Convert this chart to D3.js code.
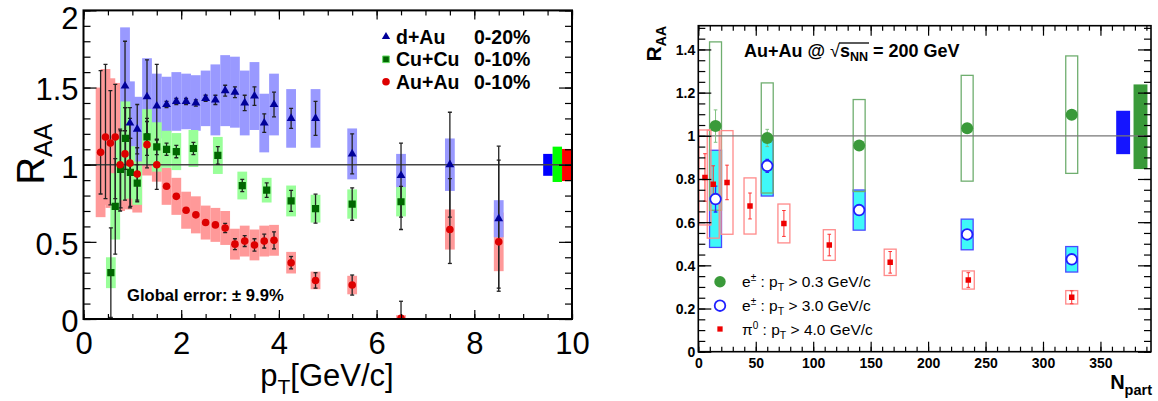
<!DOCTYPE html>
<html>
<head>
<meta charset="utf-8">
<script src="https://cdn.jsdelivr.net/npm/d3@7/dist/d3.min.js"></script>
<style>
html,body{margin:0;padding:0;background:#fff;}
svg{display:block;}
</style>
</head>
<body>
<svg id="chart" width="1158" height="401"></svg>
<script>
// ================= LEFT PANEL DATA: R_AA vs pT =================
// d+Au 0-20%
const dAuPt     = [0.85,0.95,1.1,1.3,1.5,1.7,1.9,2.1,2.3,2.5,2.7,2.9,3.1,3.3,3.5,3.7,3.9,4.25,4.75,5.5,6.5,7.5,8.5];
const dAuR      = [1.51,1.27,1.23,1.44,1.38,1.39,1.41,1.41,1.40,1.43,1.42,1.48,1.47,1.40,1.445,1.27,1.39,1.30,1.30,1.07,0.93,1.00,0.65];
const dAuStatHi = [0.29,0.10,0.16,0.24,0.27,0.02,0.02,0.02,0.02,0.02,0.03,0.035,0.035,0.05,0.06,0.06,0.08,0.065,0.11,0.13,0.21,0.34,0.47];
const dAuStatLo = [0.29,0.10,0.16,0.24,0.27,0.02,0.02,0.02,0.02,0.02,0.03,0.035,0.035,0.05,0.06,0.06,0.08,0.065,0.11,0.13,0.35,0.34,0.47];
const dAuSys    = [0.38,0.27,0.21,0.25,0.21,0.18,0.19,0.18,0.18,0.18,0.23,0.23,0.23,0.21,0.22,0.19,0.20,0.19,0.19,0.165,0.14,0.17,0.12];
// Cu+Cu 0-10%
const cuPt   = [0.56,0.65,0.76,0.86,0.96,1.1,1.3,1.5,1.7,1.9,2.25,2.75,3.25,3.75,4.25,4.75,5.5,6.5];
const cuR    = [0.30,0.73,0.97,1.17,0.95,0.88,1.18,1.115,1.10,1.085,1.105,1.06,0.865,0.835,0.765,0.715,0.745,0.76];
const cuStat = [0.29,0.31,0.25,0.20,0.22,0.12,0.12,0.05,0.04,0.04,0.04,0.057,0.04,0.047,0.068,0.094,0.105,0.10];
const cuSys  = [0.10,0.215,0.20,0.24,0.17,0.14,0.18,0.16,0.12,0.12,0.12,0.12,0.09,0.08,0.10,0.09,0.095,0.095];
// Au+Au 0-10%
const auPt     = [0.35,0.45,0.55,0.65,0.75,0.85,0.95,1.1,1.3,1.5,1.7,1.9,2.1,2.3,2.5,2.7,2.9,3.1,3.3,3.5,3.7,3.9,4.25,4.75,5.5,6.5,7.5,8.5];
const auR      = [1.08,1.18,1.14,1.18,1.00,1.07,1.01,0.94,1.13,1.00,0.86,0.795,0.705,0.675,0.625,0.61,0.59,0.485,0.505,0.48,0.505,0.51,0.365,0.25,0.22,0.005,0.58,0.50];
const auStatHi = [0.53,0.47,0.34,0.34,0.23,0.30,0.29,0.17,0.15,0.16,0.01,0.01,0.01,0.01,0.01,0.015,0.03,0.035,0.035,0.04,0.045,0.055,0.04,0.05,0.065,0.11,0.33,0.53];
const auStatLo = [0.27,0.40,0.40,0.40,0.30,0.30,0.29,0.17,0.15,0.16,0.01,0.01,0.01,0.01,0.01,0.015,0.03,0.035,0.035,0.04,0.045,0.055,0.04,0.05,0.065,0.005,0.22,0.30];
const auSys    = [0.42,0.44,0.42,0.35,0.30,0.30,0.30,0.25,0.20,0.11,0.12,0.12,0.12,0.12,0.11,0.11,0.11,0.10,0.10,0.10,0.10,0.10,0.07,0.057,0.06,0.02,0.13,0.19];
// global normalisation boxes (d+Au, Cu+Cu, Au+Au)
const leftGlobalLo = [0.928,0.888,0.894];
const leftGlobalHi = [1.070,1.117,1.102];
const leftNames = ["d+Au","Cu+Cu","Au+Au"];
const leftCents = ["0-20%","0-10%","0-10%"];
const leftXTicks = [0,2,4,6,8,10];
const leftYTicks = [0,0.5,1,1.5,2];

// ================= RIGHT PANEL DATA: R_AA vs Npart =================
const eNpart    = [15,60,140,234,325];
const eLowR     = [1.045,0.99,0.955,1.035,1.098];   // e± pT>0.3
const eLowStat  = [0.075,0.04,0.02,0.02,0.02];
const eLowSys   = [0.39,0.255,0.213,0.245,0.272];
const eHighR    = [0.707,0.861,0.656,0.543,0.428];  // e± pT>3.0
const eHighStat = [0.06,0.03,0.012,0.012,0.012];
const eHighSysHi= [0.226,0.12,0.093,0.071,0.059];
const eHighSysLo= [0.224,0.14,0.093,0.071,0.059];
const piNpart   = [5.8,13,25,45,74.5,114,167,235,325];
const piR       = [0.807,0.776,0.784,0.675,0.594,0.494,0.414,0.332,0.252]; // pi0 pT>4
const piStat    = [0.11,0.085,0.08,0.06,0.06,0.05,0.05,0.034,0.03];
const piSys     = [0.22,0.25,0.24,0.13,0.09,0.071,0.061,0.042,0.031];
const rightGlobalLo = [0.915,0.846];
const rightGlobalHi = [1.116,1.238];
const rightXTicks = [0,50,100,150,200,250,300,350];
const rightYTicks = [0,0.2,0.4,0.6,0.8,1,1.2,1.4];

// ================= DRAWING =================
const svg = d3.select("#chart");
const FONT = "'Liberation Sans', Arial, Helvetica, sans-serif";

const xL = d3.scaleLinear().domain([0,10]).range([83.5,572]);
const yL = d3.scaleLinear().domain([0,2]).range([319,10.4]);
const xR = d3.scaleLinear().domain([0,394]).range([698.3,1151]);
const yR = d3.scaleLinear().domain([0,1.51]).range([351.7,25.7]);

const defs = svg.append("defs");
function clip(id, x, y){
  const [xa,xb]=x.range(), [ya,yb]=y.range();
  defs.append("clipPath").attr("id",id).append("rect")
    .attr("x",xa).attr("y",yb).attr("width",xb-xa).attr("height",ya-yb);
}
clip("clipL", xL, yL); clip("clipR", xR, yR);

function frameAxes(x, y, o){
  const g = svg.append("g");
  const [xa,xb]=x.range(), [ya,yb]=y.range();
  const mk = (axisFn, scale, vals, len, tr, fmt, pad) => {
    const a = axisFn(scale).tickValues(vals).tickSizeInner(-len).tickSizeOuter(0)
      .tickPadding(pad||3).tickFormat(fmt || (()=>""));
    const gg = g.append("g").attr("transform", tr).call(a);
    gg.select(".domain").remove();
    gg.selectAll(".tick line").attr("stroke","#000").attr("stroke-width",o.tickW);
    return gg;
  };
  const bx = mk(d3.axisBottom, x, o.xMajor, o.xMajLen, `translate(0,${ya})`, o.xFmt, o.xPad);
  mk(d3.axisBottom, x, o.xMinor, o.xMinLen, `translate(0,${ya})`);
  mk(d3.axisTop, x, o.xMajor, o.xMajLen, `translate(0,${yb})`);
  mk(d3.axisTop, x, o.xMinor, o.xMinLen, `translate(0,${yb})`);
  const ly = mk(d3.axisLeft, y, o.yMajor, o.yMajLen, `translate(${xa},0)`, o.yFmt, o.yPad);
  mk(d3.axisLeft, y, o.yMinor, o.yMinLen, `translate(${xa},0)`);
  mk(d3.axisRight, y, o.yMajor, o.yMajLen, `translate(${xb},0)`);
  mk(d3.axisRight, y, o.yMinor, o.yMinLen, `translate(${xb},0)`);
  g.append("rect").attr("x",xa).attr("y",yb).attr("width",xb-xa).attr("height",ya-yb)
    .attr("fill","none").attr("stroke","#000").attr("stroke-width",o.frameW);
  [bx,ly].forEach(s => s.selectAll("text").attr("font-family",FONT).attr("font-size",o.fs)
    .attr("font-weight",o.fw).attr("fill","#000"));
  ly.selectAll("text").attr("dy",o.yDy);
  return ly;
}

function boxes(g, x, y, xs, ys, hi, lo, halfW, fill, stroke, sw){
  g.append("g").selectAll("rect").data(xs).join("rect")
    .attr("x", (d)=>x(d-halfW))
    .attr("width", (d)=>x(d+halfW)-x(d-halfW))
    .attr("y", (d,i)=>y(ys[i]+hi[i]))
    .attr("height", (d,i)=>y(ys[i]-lo[i])-y(ys[i]+hi[i]))
    .attr("fill", fill).attr("stroke", stroke).attr("stroke-width", sw||0);
}
function errBars(g, x, y, xs, ys, hi, lo, color, capW, sw){
  const gg = g.append("g").attr("stroke",color).attr("stroke-width",sw);
  xs.forEach((d,i)=>{
    const cx = x(d), t = y(ys[i]+hi[i]), b = y(Math.max(0,ys[i]-lo[i]));
    gg.append("line").attr("x1",cx).attr("x2",cx).attr("y1",t).attr("y2",b);
    gg.append("line").attr("x1",cx-capW).attr("x2",cx+capW).attr("y1",t).attr("y2",t);
    gg.append("line").attr("x1",cx-capW).attr("x2",cx+capW).attr("y1",b).attr("y2",b);
  });
}
const sq = a => d3.symbol(d3.symbolSquare, a)();
const tri = a => d3.symbol(d3.symbolTriangle, a)();

// ---------------- LEFT PANEL ----------------
const gL = svg.append("g").attr("clip-path","url(#clipL)");
const BW = 0.1; // half-width of systematic boxes in GeV/c
boxes(gL, xL, yL, auPt, auR, auSys, auSys, BW, "#ff9999");
boxes(gL, xL, yL, dAuPt, dAuR, dAuSys, dAuSys, BW, "#9999ff");
boxes(gL, xL, yL, cuPt, cuR, cuSys, cuSys, BW, "#99ff99");
// global boxes at right edge
const gColsL = ["#0000ff","#00ff00","#ff0000"];
leftGlobalLo.forEach((lo,i)=>{
  const x0 = 9.41 + i*0.193, x1 = x0 + 0.193;
  gL.append("rect").attr("x",xL(x0)).attr("width",xL(x1)-xL(x0))
    .attr("y",yL(leftGlobalHi[i])).attr("height",yL(lo)-yL(leftGlobalHi[i])).attr("fill",gColsL[i]);
});
gL.append("line").attr("x1",xL(0)).attr("x2",xL(10)).attr("y1",yL(1)).attr("y2",yL(1))
  .attr("stroke","#444").attr("stroke-width",1.4);
errBars(gL, xL, yL, auPt, auR, auStatHi, auStatLo, "#222", 2, 1.3);
errBars(gL, xL, yL, cuPt, cuR, cuStat, cuStat, "#222", 2, 1.3);
errBars(gL, xL, yL, dAuPt, dAuR, dAuStatHi, dAuStatLo, "#222", 2, 1.3);
gL.append("g").selectAll("path").data(cuPt).join("path")
  .attr("d", sq(52)).attr("fill","#006600")
  .attr("transform",(d,i)=>`translate(${xL(d)},${yL(cuR[i])})`);
gL.append("g").selectAll("circle").data(auPt).join("circle")
  .attr("cx",d=>xL(d)).attr("cy",(d,i)=>yL(auR[i])).attr("r",3.8).attr("fill","#dd0000");
gL.append("g").selectAll("path").data(dAuPt).join("path")
  .attr("d", tri(34)).attr("fill","#000099")
  .attr("transform",(d,i)=>`translate(${xL(d)},${yL(dAuR[i])})`);

const lyL = frameAxes(xL, yL, {
  xMajor:leftXTicks, xMinor:d3.range(0,10.001,0.5), yMajor:leftYTicks, yMinor:d3.range(0,2.001,0.1),
  xMajLen:9, xMinLen:5, yMajLen:13, yMinLen:7, tickW:1.2, frameW:2,
  xFmt:d3.format(""), yFmt:d3.format(""), xPad:13, yPad:5, fs:31, fw:"normal", yDy:"0.4em"
});
// keep the topmost label inside the picture
lyL.selectAll(".tick").filter(d=>d===2).select("text").attr("dy","0.58em");

// left legend
const legL = svg.append("g").attr("font-family",FONT).attr("font-weight","bold").attr("font-size",19.5);
const legRowsY = [36.7,59.3,81.7];
legL.append("path").attr("d",tri(30)).attr("fill","#000099").attr("transform",`translate(386,${legRowsY[0]})`);
legL.append("path").attr("d",sq(44)).attr("fill","#006600").attr("stroke","#66dd66").attr("stroke-width",1).attr("transform",`translate(386,${legRowsY[1]})`);
legL.append("circle").attr("cx",386).attr("cy",legRowsY[2]).attr("r",3.8).attr("fill","#dd0000");
leftNames.forEach((n,i)=>{
  legL.append("text").attr("x",396).attr("y",legRowsY[i]+7).text(n);
  legL.append("text").attr("x",474).attr("y",legRowsY[i]+7).text(leftCents[i]);
});
svg.append("text").attr("x",127).attr("y",301).attr("font-family",FONT).attr("font-size",16.6)
  .attr("font-weight","bold").text("Global error: ± 9.9%");

// left axis titles
const xt = svg.append("text").attr("x",327).attr("y",386).attr("text-anchor","middle")
  .attr("font-family",FONT).attr("font-size",31);
xt.append("tspan").text("p");
xt.append("tspan").attr("font-size",21).attr("dy",8).text("T");
xt.append("tspan").attr("dy",-8).text("[GeV/c]");
const yt = svg.append("text").attr("transform","translate(44,154) rotate(-90)").attr("text-anchor","middle")
  .attr("font-family",FONT).attr("font-size",38);
yt.append("tspan").text("R");
yt.append("tspan").attr("font-size",25).attr("dy",8).text("AA");

// ---------------- RIGHT PANEL ----------------
const gR = svg.append("g").attr("clip-path","url(#clipR)");
const NW = 5.2; // half-width of boxes in Npart units
boxes(gR, xR, yR, eNpart, eHighR, eHighSysHi, eHighSysLo, NW, "#3ff8f8", "#4a4aff", 1.3);
boxes(gR, xR, yR, eNpart, eLowR, eLowSys, eLowSys, NW, "none", "#6fae6f", 1.3);
boxes(gR, xR, yR, piNpart, piR, piSys, piSys, NW, "none", "#ff8a8a", 1.3);
const gColsR = ["#1515ff","#3a9a3a"];
rightGlobalLo.forEach((lo,i)=>{
  const x0 = 363.7 + i*15.1, x1 = x0 + 12.1;
  gR.append("rect").attr("x",xR(x0)).attr("width",xR(x1)-xR(x0))
    .attr("y",yR(rightGlobalHi[i])).attr("height",yR(lo)-yR(rightGlobalHi[i])).attr("fill",gColsR[i]);
});
gR.append("line").attr("x1",xR(0)).attr("x2",xR(394)).attr("y1",yR(1)).attr("y2",yR(1))
  .attr("stroke","#777").attr("stroke-width",1.2);
errBars(gR, xR, yR, eNpart, eLowR, eLowStat, eLowStat, "#80c080", 1.8, 1);
errBars(gR, xR, yR, piNpart, piR, piStat, piStat, "#ff3333", 1.8, 1);
errBars(gR, xR, yR, eNpart, eHighR, eHighStat, eHighStat, "#2a2aff", 1.8, 1.3);
gR.append("g").selectAll("circle").data(eNpart).join("circle")
  .attr("cx",d=>xR(d)).attr("cy",(d,i)=>yR(eLowR[i])).attr("r",6).attr("fill","#3a9a3a");
gR.append("g").selectAll("circle").data(eNpart).join("circle")
  .attr("cx",d=>xR(d)).attr("cy",(d,i)=>yR(eHighR[i])).attr("r",5.3).attr("fill","#fff")
  .attr("stroke","#2020ff").attr("stroke-width",1.8);
gR.append("g").selectAll("path").data(piNpart).join("path")
  .attr("d", sq(30)).attr("fill","#ee0000")
  .attr("transform",(d,i)=>`translate(${xR(d)},${yR(piR[i])})`);

frameAxes(xR, yR, {
  xMajor:rightXTicks, xMinor:d3.range(0,394,10), yMajor:rightYTicks, yMinor:d3.range(0,1.51,0.05),
  xMajLen:10, xMinLen:5, yMajLen:13, yMinLen:7, tickW:1.2, frameW:1.6,
  xFmt:d3.format(""), yFmt:d3.format(""), xPad:6, yPad:3, fs:14, fw:"bold", yDy:"0.35em"
});

// right title
const rt = svg.append("text").attr("x",744).attr("y",57).attr("font-family",FONT)
  .attr("font-size",18).attr("font-weight","bold");
rt.append("tspan").text("Au+Au @ ");
rt.append("tspan").attr("font-weight","normal").text("√");
rt.append("tspan").text("s");
rt.append("tspan").attr("font-size",12.5).attr("dy",4).text("NN");
rt.append("tspan").attr("dy",-4).text(" = 200 GeV");
try {
  const node = rt.node();
  const e = node.getExtentOfChar(11), r = node.getExtentOfChar(8);
  svg.append("line").attr("x1",r.x + r.width - 1).attr("x2",e.x+e.width+1)
    .attr("y1",r.y+2).attr("y2",r.y+2).attr("stroke","#000").attr("stroke-width",1.3);
} catch(err) {}

// right axis titles
const rty = svg.append("text").attr("transform","translate(661,26) rotate(-90)").attr("text-anchor","end")
  .attr("font-family",FONT).attr("font-weight","bold").attr("font-size",21);
rty.append("tspan").text("R");
rty.append("tspan").attr("font-size",14).attr("dy",5).text("AA");
const rtx = svg.append("text").attr("x",1152).attr("y",389).attr("text-anchor","end")
  .attr("font-family",FONT).attr("font-weight","bold").attr("font-size",20);
rtx.append("tspan").text("N");
rtx.append("tspan").attr("font-size",14.5).attr("dy",6).text("part");

// right legend
const legR = svg.append("g").attr("font-family",FONT).attr("font-size",15.5);
const rRows = [281.7,305.7,329];
legR.append("circle").attr("cx",720).attr("cy",rRows[0]).attr("r",5.7).attr("fill","#3a9a3a");
legR.append("circle").attr("cx",720).attr("cy",rRows[1]).attr("r",5.3).attr("fill","#fff").attr("stroke","#2020ff").attr("stroke-width",1.8);
legR.append("path").attr("d",sq(28)).attr("fill","#ee0000").attr("transform",`translate(720,${rRows[2]})`);
const legTexts = [["e","±"," : p","T"," > 0.3 GeV/c"],["e","±"," : p","T"," > 3.0 GeV/c"],["π","0"," : p","T"," > 4.0 GeV/c"]];
legTexts.forEach((t,i)=>{
  const tx = legR.append("text").attr("x",742).attr("y",rRows[i]+5.5);
  tx.append("tspan").text(t[0]);
  tx.append("tspan").attr("font-size",10).attr("dy",-6).text(t[1]);
  tx.append("tspan").attr("dy",6).text(t[2]);
  tx.append("tspan").attr("font-size",10.5).attr("dy",4).text(t[3]);
  tx.append("tspan").attr("dy",-4).text(t[4]);
});
</script>
</body>
</html>
